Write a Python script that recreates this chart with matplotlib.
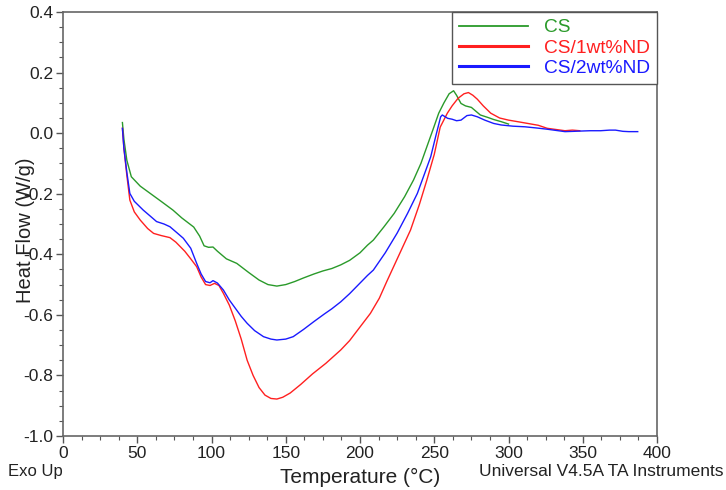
import numpy as np
import matplotlib
matplotlib.use('Agg')
import matplotlib.pyplot as plt
from matplotlib.ticker import MultipleLocator

plt.rcParams['font.family'] = ['Liberation Sans', 'DejaVu Sans']

# DSC curves (temperature in C, heat flow in W/g)
cs_T = [40, 41, 43, 46, 52, 59, 66, 74, 80, 88, 92, 95, 98, 101, 104, 110, 117,
        125, 132, 138, 144, 150, 156, 162, 169, 175, 181, 187, 193, 200, 205,
        209, 216, 223, 230, 236, 241, 245, 249, 253, 256.5, 260, 263, 265, 268,
        271, 275, 281, 286, 290, 295, 300]
cs_HF = [0.035, -0.02, -0.09, -0.144, -0.175, -0.2, -0.225, -0.254, -0.28,
         -0.31, -0.34, -0.372, -0.377, -0.376, -0.39, -0.415, -0.43, -0.46,
         -0.485, -0.5, -0.505, -0.5, -0.49, -0.478, -0.465, -0.455, -0.447,
         -0.435, -0.42, -0.395, -0.37, -0.353, -0.31, -0.265, -0.21, -0.155,
         -0.1, -0.045, 0.01, 0.066, 0.1, 0.13, 0.14, 0.125, 0.098, 0.09, 0.085,
         0.06, 0.052, 0.045, 0.038, 0.03]

nd1_T = [40, 41, 43, 45, 48, 52, 57, 61, 66, 72, 76, 79, 82, 86, 90, 93, 96,
         99, 102, 105, 108, 112, 116, 120, 124, 128, 132, 136, 140, 144, 148,
         153, 160, 168, 177, 187, 193, 200, 207, 213, 218, 226, 234, 240, 245,
         250, 254, 258.8, 262, 266, 270, 273, 276, 279, 283, 288, 294, 300, 306,
         313, 320, 326, 332, 338, 343, 348]
nd1_HF = [0.016, -0.05, -0.14, -0.221, -0.26, -0.287, -0.315, -0.331, -0.338,
          -0.345, -0.36, -0.375, -0.39, -0.415, -0.441, -0.475, -0.5, -0.503,
          -0.496, -0.503, -0.529, -0.568, -0.62, -0.68, -0.75, -0.8, -0.84,
          -0.865, -0.876, -0.878, -0.872, -0.858, -0.83, -0.795, -0.76, -0.716,
          -0.685, -0.64, -0.595, -0.545, -0.49, -0.405, -0.32, -0.235, -0.155,
          -0.07, 0.02, 0.066, 0.09, 0.115, 0.13, 0.134, 0.125, 0.112, 0.09,
          0.066, 0.05, 0.043, 0.038, 0.032, 0.026, 0.016, 0.012, 0.008, 0.01,
          0.008]

nd2_T = [40, 41, 43, 45, 48, 54, 59, 63, 68, 72, 77, 81, 86, 90, 93, 96, 99,
         101, 104, 108, 112, 116, 120, 124, 129, 135, 140, 144, 150, 155, 162,
         169, 176, 181, 187, 193, 199, 205, 209, 217, 225, 232, 238.6, 243,
         247.6, 251, 254.3, 255.4, 257, 259, 262, 265, 268, 272, 275, 279, 284,
         290, 295, 303, 311, 319, 326, 332, 338, 344, 349, 355, 362, 368, 372,
         377, 381, 387]
nd2_HF = [0.016, -0.05, -0.13, -0.199, -0.225, -0.254, -0.275, -0.292, -0.3,
          -0.309, -0.33, -0.347, -0.38, -0.43, -0.465, -0.49, -0.494, -0.487,
          -0.495, -0.518, -0.551, -0.578, -0.605, -0.628, -0.652, -0.672,
          -0.68, -0.683, -0.68, -0.672, -0.648, -0.622, -0.597, -0.58, -0.557,
          -0.53, -0.5, -0.47, -0.452, -0.395, -0.33, -0.265, -0.199, -0.14,
          -0.078, -0.01, 0.054, 0.06, 0.055, 0.049, 0.046, 0.041, 0.043, 0.058,
          0.06, 0.054, 0.043, 0.032, 0.027, 0.023, 0.021, 0.017, 0.013, 0.009,
          0.005, 0.006, 0.007, 0.008, 0.008, 0.01, 0.01, 0.006, 0.005, 0.005]

labels = ['CS', 'CS/1wt%ND', 'CS/2wt%ND']
colors = ['#2a9a2a', '#ff2020', '#1a1aff']

fig = plt.figure(figsize=(7.26, 4.9), dpi=100)
ax = fig.add_axes([0.0868, 0.1102, 0.8182, 0.8653])

ax.plot(cs_T, cs_HF, color=colors[0], lw=1.0, label=labels[0])
ax.plot(nd1_T, nd1_HF, color=colors[1], lw=1.0, label=labels[1])
ax.plot(nd2_T, nd2_HF, color=colors[2], lw=1.0, label=labels[2])

ax.set_xlim(0, 400)
ax.set_ylim(-1.0, 0.4)
ax.xaxis.set_major_locator(MultipleLocator(50))
ax.xaxis.set_minor_locator(MultipleLocator(12.5))
ax.yaxis.set_major_locator(MultipleLocator(0.2))
ax.yaxis.set_minor_locator(MultipleLocator(0.05))
ax.yaxis.set_major_formatter(plt.FuncFormatter(lambda v, p: '%.1f' % v))
ax.tick_params(which='major', direction='out', length=5, width=1,
               color='#555555', labelsize=12.5, labelcolor='#222222', pad=2)
ax.tick_params(which='minor', direction='out', length=3, width=0.8,
               color='#555555')
for s in ax.spines.values():
    s.set_color('#666666')
    s.set_linewidth(1.2)

ax.set_xlabel('Temperature (°C)', fontsize=15, color='#222222', labelpad=5)
ax.set_ylabel('Heat Flow (W/g)', fontsize=14.5, color='#222222')
ax.yaxis.set_label_coords(-0.048, 0.485)

leg = ax.legend(loc='upper right', bbox_to_anchor=(1.0, 1.0), borderaxespad=0,
                fancybox=False, edgecolor='#555555', fontsize=13.8,
                handlelength=3.6, handletextpad=0.83, labelspacing=0.15,
                borderpad=0.36, labelcolor='linecolor', framealpha=1)
leg.get_frame().set_linewidth(1.0)
for h, w in zip(leg.get_lines(), [1.3, 2.2, 2.2]):
    h.set_linewidth(w)

fig.text(0.011, 0.038, 'Exo Up', fontsize=12, color='#222222', ha='left', va='center')
fig.text(0.997, 0.038, 'Universal V4.5A TA Instruments', fontsize=12.5,
         color='#222222', ha='right', va='center')

fig.savefig('out.png', dpi=100)
